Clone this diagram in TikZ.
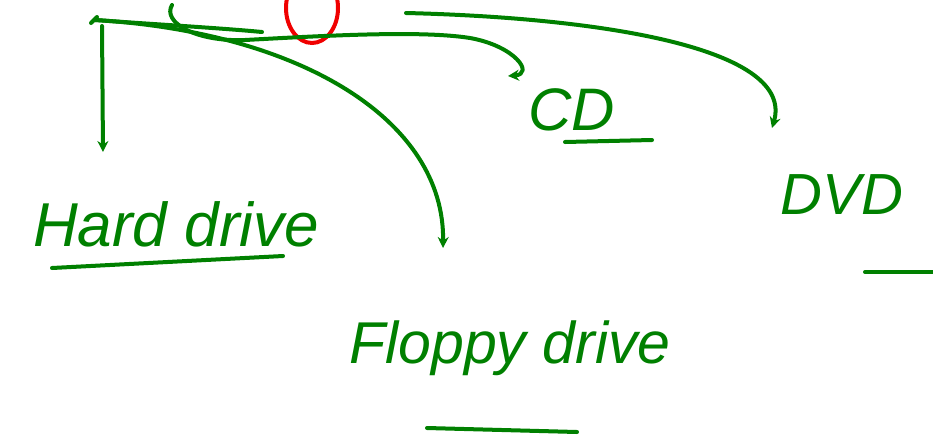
\documentclass[tikz,border=0pt]{standalone}
\usepackage{fontspec}
\setmainfont{Liberation Sans}
\usetikzlibrary{arrows.meta}
\definecolor{pen}{RGB}{0,128,0}
\definecolor{redpen}{RGB}{240,0,0}
\tikzset{
  stroke/.style={draw=pen, line width=4pt, line cap=round, line join=round},
  arrowed/.style={stroke, -{Stealth[length=11pt,width=11pt]}},
  label/.style={text=pen, inner sep=0pt, font=\fontsize{62}{68}\selectfont\itshape}
}
\begin{document}
\begin{tikzpicture}[x=1pt,y=-1pt]
\useasboundingbox (0,0) rectangle (933,437);
% red ellipse (cut off at top)
\draw[redpen, line width=4pt] (312,8) ellipse [x radius=26, y radius=35];
% nodes
\node[label] (hd) at (176,224) {Hard drive};
\node[label, font=\fontsize{59}{65}\selectfont\itshape] (fd) at (510,348) {Floppy drive};
\node[label, font=\fontsize{60}{66}\selectfont\itshape] (cd) at (572,110) {CD};
\node[label, font=\fontsize{58}{64}\selectfont\itshape] (dvd) at (842,195) {DVD};
% underlines
\draw[stroke] (52,268) -- (283,256);
\draw[stroke] (427,428) -- (577,432);
\draw[stroke] (565,142) -- (652,140);
\draw[stroke] (865,272) -- (933,272);
% coordinates
\coordinate (src) at (95,20);
\coordinate (hdtip) at (103,152);
\coordinate (cdtip) at (508,76);
\coordinate (fdtip) at (443,248);
\coordinate (dvdtip) at (772,128);
% connectors
\draw[stroke] (91,23) -- (97,17);
\draw[stroke] (src) .. controls (150,24) and (220,28) .. (262,32);
\draw[arrowed] (102,26) -- (hdtip);
\draw[arrowed] (172,5) .. controls (162,22) and (195,42) .. (245,40)
   .. controls (320,36) and (420,30) .. (470,38)
   .. controls (515,46) and (535,74) .. (cdtip);
\draw[arrowed] (src) .. controls (300,32) and (445,120) .. (fdtip);
\draw[arrowed] (406,13) .. controls (610,18) and (795,50) .. (dvdtip);
\end{tikzpicture}
\end{document}
